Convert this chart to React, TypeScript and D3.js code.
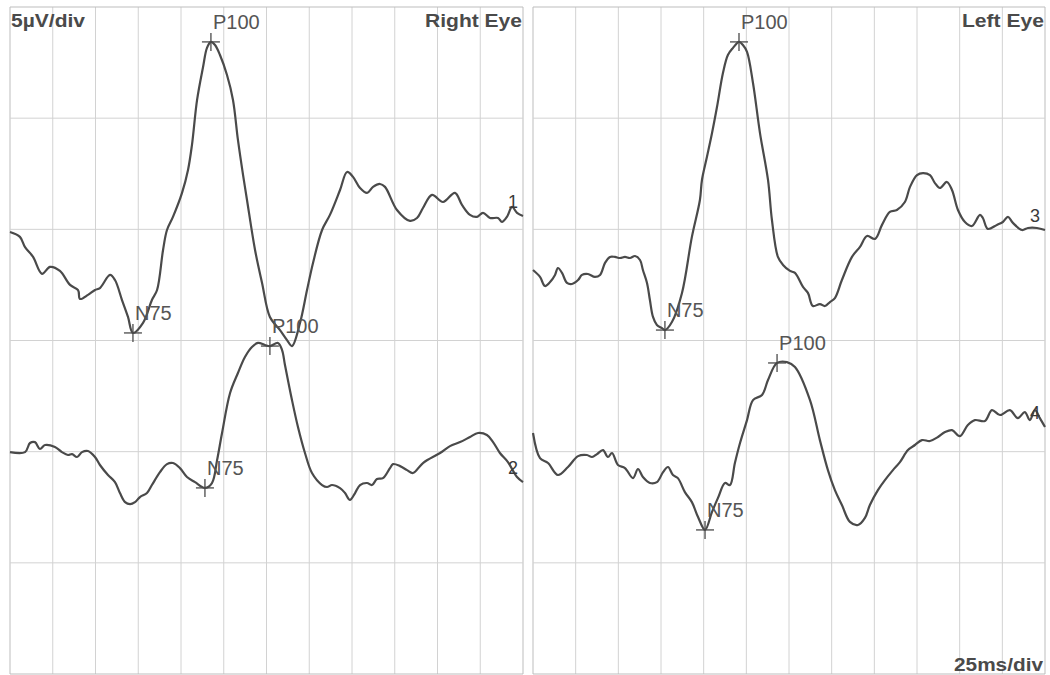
import React from 'react';
import * as d3 from 'd3';

// Time axis: 12 divisions of 25 ms; amplitude axis: 6 divisions of 5 µV
const timeTicksMs = d3.range(0, 301, 25);
const ampTicksUv = d3.range(-15, 16, 5);

// VEP waveforms as [time ms, amplitude µV] on each panel's grid
const trace1: [number, number][] = [
  [0, 4.88], [5.8, 4.66], [8.8, 4.2], [13.5, 3.76], [18.7, 3.0], [23.4, 3.31], [29.2, 3.13],
  [35.1, 2.5], [39.8, 2.27], [40.9, 1.87], [45.6, 2.05], [49.7, 2.27], [52.6, 2.36], [58.5, 2.95],
  [61.4, 2.72], [65.5, 1.82], [69.0, 1.06], [71.9, 0.34], [77.8, 0.79], [83.0, 1.82], [86.0, 2.27],
  [89.5, 4.07], [91.8, 4.97], [95.3, 5.56], [100.6, 6.64], [104.1, 7.67], [106.4, 8.79], [109.4, 10.82],
  [112.9, 12.3], [115.2, 13.16], [117.5, 13.43], [119.9, 13.29], [122.8, 12.84], [126.9, 11.94],
  [130.4, 10.82], [133.3, 9.02], [136.3, 7.44], [138.6, 6.32], [143.3, 4.07], [147.4, 2.59],
  [152.0, 1.06], [157.9, 0.47], [162.0, 0.02], [164.9, -0.25], [169.6, 0.79], [173.7, 2.27],
  [177.2, 3.49], [182.5, 4.97], [187.1, 5.65], [193.0, 6.77], [197.1, 7.58], [200.6, 7.36],
  [204.7, 6.86], [208.8, 6.64], [212.3, 6.91], [216.4, 7.04], [219.3, 6.91], [226.3, 5.87],
  [233.9, 5.38], [238.0, 5.51], [241.5, 5.96], [246.8, 6.55], [253.2, 6.23], [260.2, 6.64],
  [264.3, 6.1], [269.0, 5.65], [273.1, 5.56], [276.6, 5.74], [280.7, 5.51], [285.4, 5.51],
  [287.7, 5.33], [290.6, 5.56], [293.6, 6.01], [296.5, 5.74], [300, 5.6],
];

const trace2: [number, number][] = [
  [0, -5.02], [8.8, -5.02], [11.7, -4.61], [14.6, -4.57], [17.5, -4.88], [20.5, -4.7], [26.3, -4.79],
  [30.4, -5.02], [33.9, -5.15], [36.3, -5.11], [39.2, -5.24], [42.1, -5.02], [45.6, -4.97],
  [49.7, -5.24], [52.6, -5.6], [57.3, -6.05], [61.4, -6.37], [64.3, -6.86], [67.3, -7.27],
  [70.2, -7.36], [73.1, -7.27], [76.0, -7.04], [80.1, -6.86], [83.0, -6.5], [87.7, -5.92],
  [91.8, -5.56], [95.3, -5.51], [99.4, -5.74], [103.5, -6.14], [108.2, -6.37], [114.0, -6.63],
  [118.1, -6.41], [121.1, -5.38], [124.0, -4.16], [128.7, -2.36], [133.3, -1.46], [137.4, -0.74],
  [141.5, -0.29], [145.0, -0.11], [149.1, -0.2], [152.0, -0.25], [156.7, -0.11], [159.1, -0.43],
  [160.8, -1.1], [164.9, -2.68], [168.4, -3.89], [172.5, -5.06], [176.6, -5.96], [182.5, -6.5],
  [185.4, -6.59], [188.3, -6.5], [193.0, -6.64], [195.9, -6.86], [198.8, -7.17], [201.8, -6.86],
  [204.7, -6.5], [208.8, -6.41], [211.7, -6.5], [214.6, -6.23], [218.1, -6.19], [222.2, -5.74],
  [224.0, -5.56], [228.1, -5.65], [232.2, -5.83], [235.7, -5.96], [241.5, -5.51], [251.5, -5.06],
  [257.3, -4.75], [263.2, -4.57], [269.0, -4.34], [273.7, -4.16], [278.9, -4.25], [282.5, -4.57],
  [286.5, -5.06], [291.2, -5.47], [296.5, -6.14], [300, -6.37],
];

const trace3: [number, number][] = [
  [0, 3.17], [4.1, 2.86], [7.0, 2.45], [10.0, 2.63], [12.9, 2.95], [14.6, 3.26], [17.0, 3.04],
  [19.9, 2.59], [22.8, 2.54], [26.4, 2.72], [28.7, 2.95], [32.2, 2.99], [36.3, 2.86], [39.3, 2.95],
  [42.2, 3.49], [45.1, 3.76], [48.0, 3.76], [51.0, 3.71], [53.9, 3.76], [56.8, 3.71], [59.8, 3.8],
  [62.7, 3.62], [64.4, 3.17], [66.8, 2.59], [68.5, 1.82], [70.3, 1.06], [72.6, 0.7], [75.6, 0.56],
  [77.3, 0.47], [81.4, 0.83], [87.3, 2.14], [93.1, 4.66], [97.8, 6.32], [99.0, 7.22], [101.9, 8.25],
  [104.9, 9.33], [107.8, 10.5], [111.3, 12.03], [114.2, 12.84], [117.2, 13.16], [120.7, 13.43],
  [123.0, 13.29], [125.4, 12.98], [128.9, 11.58], [133.0, 9.33], [137.7, 7.22], [140.0, 5.42],
  [143.5, 3.76], [146.5, 3.4], [150.6, 3.13], [153.5, 3.04], [158.2, 2.41], [161.1, 2.14],
  [164.0, 1.55], [168.1, 1.64], [171.1, 1.55], [174.0, 1.73], [176.9, 1.91], [181.0, 2.72],
  [186.9, 3.76], [191.6, 4.21], [195.7, 4.7], [200.4, 4.57], [204.5, 5.2], [209.1, 5.78],
  [213.2, 5.87], [217.9, 6.23], [220.9, 6.91], [225.0, 7.44], [228.5, 7.53], [232.6, 7.44],
  [235.5, 7.08], [238.4, 6.86], [242.5, 7.13], [245.5, 6.77], [249.0, 5.87], [253.1, 5.33],
  [257.2, 5.15], [261.9, 5.65], [263.6, 5.51], [266.5, 5.02], [271.8, 5.2], [275.3, 5.33],
  [278.3, 5.56], [281.2, 5.29], [286.5, 4.97], [290.0, 5.06], [295.3, 5.06], [300, 4.97],
];

const trace4: [number, number][] = [
  [0, -4.16], [4.1, -5.29], [8.8, -5.51], [14.6, -6.05], [20.5, -5.69], [26.4, -5.2], [31.6, -5.15],
  [34.6, -5.24], [37.5, -5.11], [41.0, -4.93], [43.9, -5.24], [46.3, -5.06], [49.8, -5.6],
  [53.9, -5.74], [58.6, -6.19], [61.5, -5.78], [64.4, -6.14], [68.5, -6.41], [72.6, -6.37],
  [76.2, -5.92], [79.1, -5.69], [82.0, -6.05], [84.9, -6.19], [89.0, -6.82], [93.1, -7.27],
  [96.7, -7.94], [100.8, -8.52], [104.9, -7.71], [108.4, -7.08], [112.5, -6.41], [115.4, -6.5],
  [118.3, -5.51], [121.3, -4.61], [125.4, -3.58], [128.9, -2.68], [134.2, -2.45], [137.7, -1.78],
  [143.0, -1.01], [148.8, -0.97], [153.5, -1.19], [162.3, -2.68], [168.1, -4.48], [172.8, -5.83],
  [176.9, -6.73], [181.0, -7.4], [185.7, -8.16], [190.4, -8.3], [194.5, -7.98], [197.4, -7.4],
  [202.1, -6.73], [206.2, -6.28], [210.9, -5.83], [215.0, -5.47], [219.7, -4.93], [223.8, -4.7],
  [227.9, -4.48], [232.6, -4.52], [237.3, -4.34], [241.4, -4.12], [245.5, -4.03], [250.1, -4.3],
  [254.8, -3.8], [258.9, -3.58], [264.8, -3.62], [268.9, -3.13], [273.6, -3.35], [279.4, -3.13],
  [284.1, -3.49], [288.2, -3.22], [291.1, -3.58], [294.1, -3.13], [297.0, -3.49], [300, -3.89],
];

const channelIds = ['1', '2', '3', '4'];
const channelPanel = [0, 0, 1, 1];
const channelData = [trace1, trace2, trace3, trace4];

// Latency markers (channel, component, time ms, amplitude µV)
const peakChannel = ['1', '1', '2', '2', '3', '3', '4', '4'];
const peakName = ['N75', 'P100', 'N75', 'P100', 'N75', 'P100', 'N75', 'P100'];
const peakTime = [71.9, 117.5, 114.0, 152.0, 77.3, 120.7, 100.8, 143.0];
const peakAmp = [0.34, 13.43, -6.63, -0.25, 0.47, 13.43, -8.52, -1.01];

const panelTitles = ['Right Eye', 'Left Eye'];

const W = 1050;
const H = 675;
const TOP = 7;
const BOTTOM = 674;
const panelBounds: [number, number][] = [
  [10, 523],
  [533, 1045],
];

const GRID = '#d2d2d2';
const INK = '#4a4a4a';
const FONT = '"Liberation Sans", Arial, Helvetica, sans-serif';

export default function App() {
  const y = d3.scaleLinear().domain([-15, 15]).range([BOTTOM, TOP]);
  const xs = panelBounds.map(([a, b]) => d3.scaleLinear().domain([0, 300]).range([a, b]));

  return (
    <svg
      width={W}
      height={H}
      viewBox={`0 0 ${W} ${H}`}
      style={{ position: 'absolute', left: 0, top: 0, background: '#ffffff' }}
    >
      <rect x={0} y={0} width={W} height={H} fill="#ffffff" />
      {panelBounds.map(([a, b], pi) => {
        const x = xs[pi];
        return (
          <g key={`panel-${pi}`}>
            {timeTicksMs.map((t) => (
              <line
                key={`v${t}`}
                x1={x(t)}
                x2={x(t)}
                y1={TOP}
                y2={BOTTOM}
                stroke={t === 0 || t === 300 ? '#bdbdbd' : GRID}
                strokeWidth={1}
              />
            ))}
            {ampTicksUv.map((v) => (
              <line
                key={`h${v}`}
                x1={a}
                x2={b}
                y1={y(v)}
                y2={y(v)}
                stroke={v === 15 || v === -15 ? '#bdbdbd' : GRID}
                strokeWidth={1}
              />
            ))}
            <text
              x={b - 1}
              y={27}
              textAnchor="end"
              fontFamily={FONT}
              fontWeight="bold"
              fontSize={19}
              fill={INK}
              textLength={pi === 0 ? 97 : 82}
              lengthAdjust="spacingAndGlyphs"
            >
              {panelTitles[pi]}
            </text>
          </g>
        );
      })}

      <text
        x={11}
        y={27}
        fontFamily={FONT}
        fontWeight="bold"
        fontSize={18}
        fill={INK}
        textLength={74}
        lengthAdjust="spacingAndGlyphs"
      >
        5µV/div
      </text>
      <text
        x={1043}
        y={671}
        textAnchor="end"
        fontFamily={FONT}
        fontWeight="bold"
        fontSize={19}
        fill={INK}
        textLength={89}
        lengthAdjust="spacingAndGlyphs"
      >
        25ms/div
      </text>

      {channelData.map((pts, ci) => {
        const x = xs[channelPanel[ci]];
        const line = d3
          .line<[number, number]>()
          .x((d) => x(d[0]))
          .y((d) => y(d[1]))
          .curve(d3.curveCatmullRom.alpha(0.5));
        const last = pts[pts.length - 1];
        return (
          <g key={`ch-${ci}`}>
            <path d={line(pts) || ''} fill="none" stroke={INK} strokeWidth={2.2} strokeLinejoin="round" />
            <text
              x={x(300) - 5}
              y={y(last[1]) - 8}
              textAnchor="end"
              fontFamily={FONT}
              fontSize={18}
              fill="#3a3a3a"
            >
              {channelIds[ci]}
            </text>
          </g>
        );
      })}

      {peakName.map((name, i) => {
        const ci = channelIds.indexOf(peakChannel[i]);
        const x = xs[channelPanel[ci]];
        const cx = x(peakTime[i]);
        const cy = y(peakAmp[i]);
        return (
          <g key={`pk-${i}`}>
            <line x1={cx - 9} x2={cx + 9} y1={cy} y2={cy} stroke={INK} strokeWidth={1.3} />
            <line x1={cx} x2={cx} y1={cy - 9} y2={cy + 9} stroke={INK} strokeWidth={1.3} />
            <text
              x={cx + 2}
              y={cy - 13}
              fontFamily={FONT}
              fontSize={20}
              fill="#555555"
            >
              {name}
            </text>
          </g>
        );
      })}
    </svg>
  );
}
